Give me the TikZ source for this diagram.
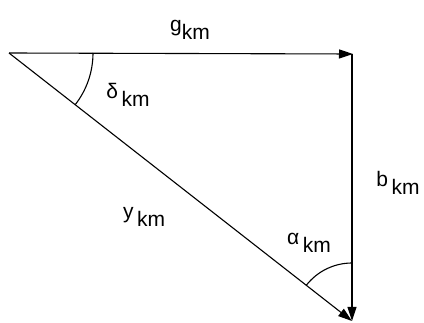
\documentclass[tikz,border=0pt]{standalone}
\usepackage{fontspec}
\setmainfont{Liberation Sans}
\usetikzlibrary{arrows.meta,calc}
\newcommand\sublbl[2]{#1\raisebox{-0.4em}{#2}}
\begin{document}
\begin{tikzpicture}[x=1pt,y=-1pt,
  vec/.style={line width=1.1pt,-{Triangle[length=14pt,width=9pt]}},
  lbl/.style={font=\fontsize{21}{24}\selectfont,inner sep=0pt},
  arcline/.style={line width=1.1pt}]
\useasboundingbox (0,0) rectangle (424,323);
\coordinate (A) at (9,53);
\coordinate (B) at (353,54);
\coordinate (C) at (352,321);
\coordinate (Bs) at (352,54);
\draw[vec] (A) -- (B);
\draw[vec] (Bs) -- (C);
\draw[vec] (A) -- (C);
\draw[arcline] ($(A)+(84,0)$) arc[start angle=0,end angle=37.9,radius=84];
\draw[arcline] ($(C)+(0,-58)$) arc[start angle=-90,end angle=-142.1,radius=58];
\node[lbl] (g) at (190,30) {\sublbl{g}{km}};
\node[lbl] (d) at (128,95) {\sublbl{δ\,}{km}};
\node[lbl] (b) at (398,183) {\sublbl{b\,}{km}};
\node[lbl] (y) at (144,217) {\sublbl{y\,}{km}};
\node[lbl] (a) at (309,243) {\sublbl{α\,}{km}};
\end{tikzpicture}
\end{document}
